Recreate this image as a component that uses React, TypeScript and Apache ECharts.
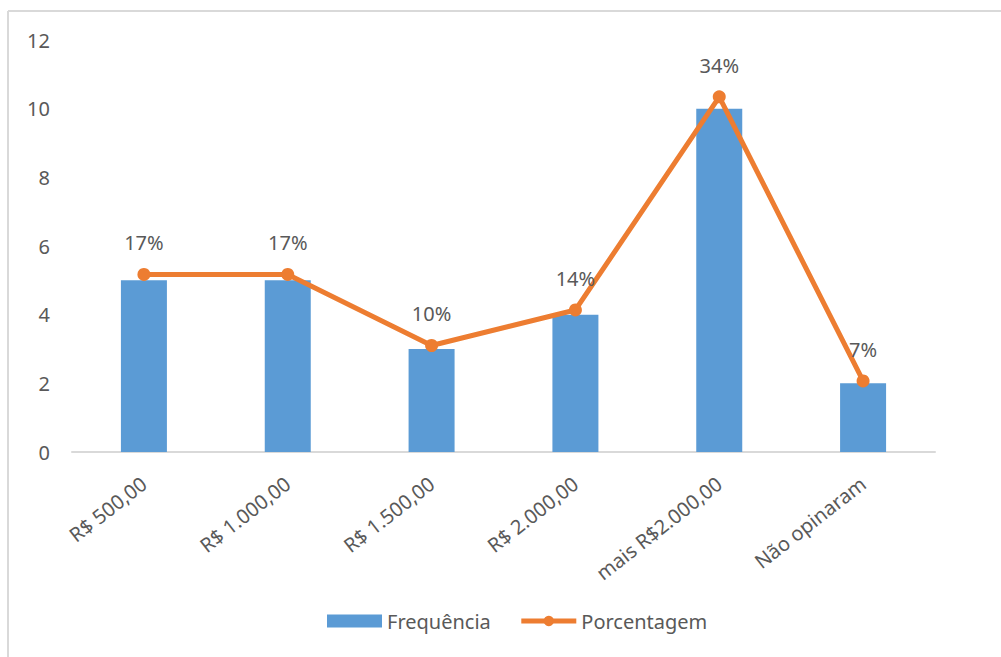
import React, { useEffect, useRef } from "react";
import * as echarts from "echarts";

const categories = ["R$ 500,00", "R$ 1.000,00", "R$ 1.500,00", "R$ 2.000,00", "mais R$2.000,00", "Não opinaram"];
const frequencia = [5, 5, 3, 4, 10, 2];
const porcentagem = [0.1724, 0.1724, 0.1034, 0.1379, 0.3448, 0.069];
const yTicks = [0, 2, 4, 6, 8, 10, 12];

const FONT = "Noto Sans";
const TEXT = "#595959";
const FS = 20;

export default function App() {
  const ref = useRef<HTMLDivElement>(null);
  useEffect(() => {
    if (!ref.current) return;
    const chart = echarts.init(ref.current, undefined, { renderer: "svg" });
    chart.setOption({
      animation: false,
      backgroundColor: "#ffffff",
      textStyle: { fontFamily: FONT },
      graphic: [
        { type: "line", shape: { x1: 8, y1: 11, x2: 1001, y2: 11 }, style: { stroke: "#d9d9d9", lineWidth: 2 } },
        { type: "line", shape: { x1: 8, y1: 11, x2: 8, y2: 657 }, style: { stroke: "#d9d9d9", lineWidth: 2 } },
      ],
      grid: { left: 72, right: 66, top: 40, bottom: 205, containLabel: false },
      legend: {
        bottom: 21,
        left: 322,
        itemGap: 28,
        itemWidth: 55,
        itemHeight: 13,
        textStyle: { color: TEXT, fontSize: FS, fontFamily: FONT },
        data: [
          { name: "Frequência", icon: "rect" },
          { name: "Porcentagem", lineStyle: { width: 5, color: "#ed7d31" } },
        ],
      },
      xAxis: {
        type: "category",
        data: categories,
        axisLine: { lineStyle: { color: "#d9d9d9", width: 2 } },
        axisTick: { show: false },
        axisLabel: { rotate: 38, color: TEXT, fontSize: FS, fontFamily: FONT, interval: 0, margin: 29 },
      },
      yAxis: [
        {
          type: "value",
          min: yTicks[0],
          max: yTicks[yTicks.length - 1],
          interval: 2,
          axisLine: { show: false },
          axisTick: { show: false },
          splitLine: { show: false },
          axisLabel: { color: TEXT, fontSize: FS, fontFamily: FONT, margin: 22 },
        },
        {
          type: "value",
          min: 0,
          max: 0.4,
          show: false,
          splitLine: { show: false },
        },
      ],
      series: [
        {
          name: "Frequência",
          type: "bar",
          data: frequencia,
          barWidth: 46,
          itemStyle: { color: "#5b9bd5" },
        },
        {
          name: "Porcentagem",
          type: "line",
          yAxisIndex: 1,
          data: porcentagem,
          symbol: "circle",
          symbolSize: 13,
          lineStyle: { color: "#ed7d31", width: 5 },
          itemStyle: { color: "#ed7d31" },
          label: {
            show: true,
            position: "top",
            distance: 15,
            color: TEXT,
            fontSize: FS,
            fontFamily: FONT,
            formatter: (p: any) => Math.round(p.value * 100) + "%",
          },
        },
      ],
    });
    return () => chart.dispose();
  }, []);
  return <div ref={ref} style={{ position: "fixed", left: 0, top: 0, width: 1001, height: 657 }} />;
}
